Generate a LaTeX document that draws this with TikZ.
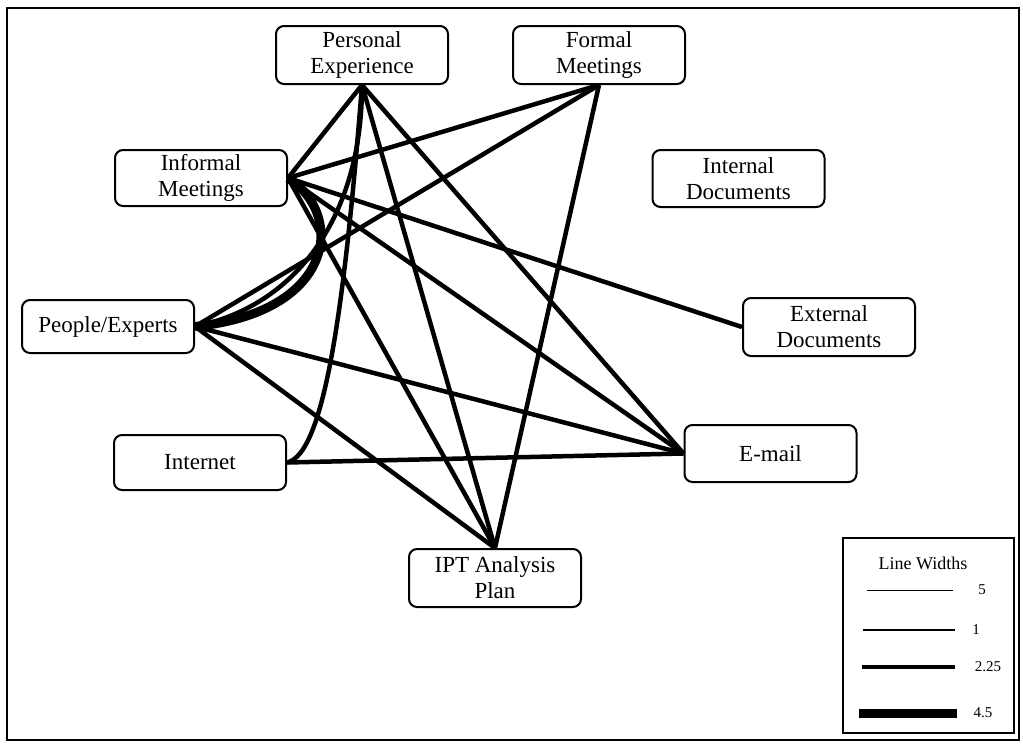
\documentclass[tikz,border=0pt]{standalone}
\usepackage{fontspec}
\setmainfont{Liberation Serif}
\begin{document}
\begin{tikzpicture}[x=0.5pt,y=-0.5pt,
  box/.style={draw, rounded corners=4pt, line width=1pt, minimum width=86pt,
    minimum height=29pt, align=center, inner sep=0pt,
    font=\fontsize{11.5}{13}\selectfont},
  edge/.style={line width=2.25pt},
  heavy/.style={line width=4.5pt},
  legtext/.style={font=\fontsize{7.5}{9}\selectfont, inner sep=0pt}]
\useasboundingbox (0,0) rectangle (1023,744);
\draw[line width=1pt] (7,8) rectangle (1019,740);

% nodes
\node[box] (PE)  at (362,55)    {Personal\\Experience};
\node[box] (FM)  at (599,55)    {Formal\\Meetings};
\node[box, minimum height=28pt] (IM)  at (201,178)   {Informal\\Meetings};
\node[box, minimum height=28.5pt] (ID)  at (738.5,178.5) {Internal\\Documents};
\node[box, minimum height=26.5pt] (PX)  at (108,326.5) {People/Experts};
\node[box] (ED)  at (829,327)   {External\\Documents};
\node[box, minimum height=27.5pt] (IN)  at (200,462.5) {Internet};
\node[box, minimum height=28.5pt] (EM)  at (770.5,453.5) {E-mail};
\node[box] (IPT) at (495,578)   {IPT Analysis\\Plan};

% connectors
\draw[edge] (IM.east) -- (PE.south);
\draw[edge] (IM.east) -- (FM.south);
\draw[edge] (IM.east) -- (ED.west);
\draw[edge] (IM.east) -- (EM.west);
\draw[edge] (IM.east) -- (IPT.north);
\draw[heavy] (IM.east) .. controls +(58,37) and +(140,-14) .. (PX.east);
\draw[edge] (PX.east) .. controls +(106,-22) and +(0,126) .. (PE.south);
\draw[edge] (PX.east) -- (FM.south);
\draw[edge] (PX.east) -- (EM.west);
\draw[edge] (PX.east) -- (IPT.north);
\draw[edge] (IN.east) .. controls +(38,-8) and +(-17,216) .. (PE.south);
\draw[edge] (IN.east) -- (EM.west);
\draw[edge] (PE.south) -- (IPT.north);
\draw[edge] (PE.south) -- (EM.west);
\draw[edge] (FM.south) -- (IPT.north);

% legend
\node[draw, line width=1pt, minimum width=85.5pt, minimum height=97.5pt, inner sep=0pt] (LG) at (928.5,635.5) {};
\node[font=\fontsize{9}{11}\selectfont, inner sep=0pt] (LT) at (923,563) {Line Widths};
\coordinate (a1) at (867,590); \coordinate (b1) at (953,590);
\coordinate (a2) at (863,630); \coordinate (b2) at (955,630);
\coordinate (a3) at (862,667); \coordinate (b3) at (955,667);
\coordinate (a4) at (859,713); \coordinate (b4) at (957,713);
\draw[line width=0.5pt] (a1) -- (b1);
\draw[line width=1pt] (a2) -- (b2);
\draw[line width=2.25pt] (a3) -- (b3);
\draw[line width=4.5pt] (a4) -- (b4);
\node[legtext] (l1) at (982,590) {5};
\node[legtext] (l2) at (976,630) {1};
\node[legtext] (l3) at (988,667) {2.25};
\node[legtext] (l4) at (983,713) {4.5};
\end{tikzpicture}
\end{document}
